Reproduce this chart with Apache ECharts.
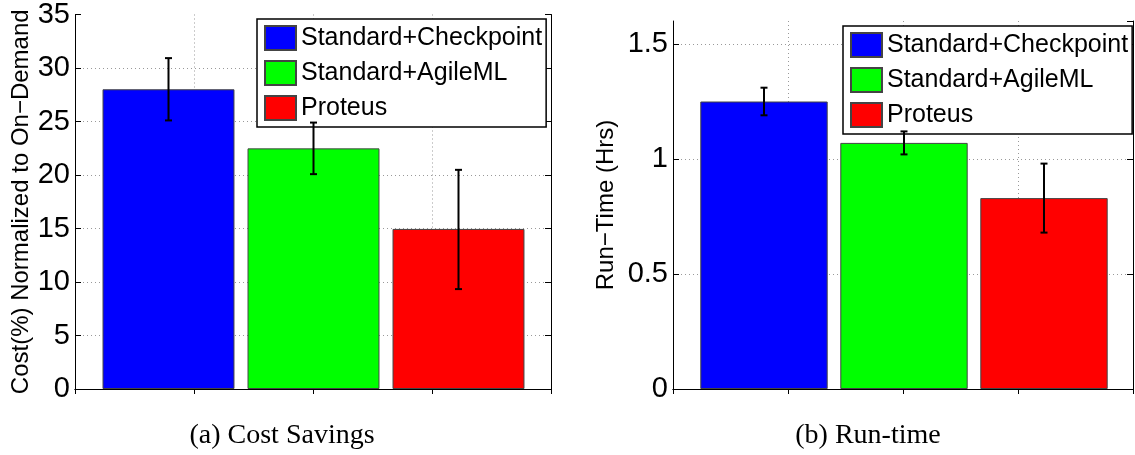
<!DOCTYPE html>
<html>
<head>
<meta charset="utf-8">
<script src="https://cdn.jsdelivr.net/npm/echarts@6/dist/echarts.min.js"></script>
<style>
  html, body { margin: 0; padding: 0; background: #fff; }
  #chart { width: 1135px; height: 455px; }
</style>
</head>
<body>
<div id="chart"></div>
<script>
// series names, shared by both panels
var names = ['Standard+Checkpoint', 'Standard+AgileML', 'Proteus'];
var colors = ['#0000ff', '#00ff00', '#ff0000'];

// (a) cost savings, % of on-demand
var costValues = [27.9, 22.4, 14.9];
var costLow = [25.0, 20.0, 9.3];
var costHigh = [30.8, 24.8, 20.4];

// (b) run-time, hours
var timeValues = [1.25, 1.07, 0.83];
var timeLow = [1.19, 1.02, 0.68];
var timeHigh = [1.31, 1.12, 0.98];

var font = '"Liberation Sans", Arial, Helvetica, sans-serif';
var serif = '"Liberation Serif", "DejaVu Serif", serif';
var dotted = { show: true, showMinLine: false, showMaxLine: false,
  lineStyle: { color: '#999', type: [1, 3], width: 1 } };

var chart = echarts.init(document.getElementById('chart'));

function frameAxes(gridIndex, min, max, interval, yName, nameGap) {
  return {
    x: [
      { gridIndex: gridIndex, type: 'value', min: 0.6, max: 1.4, interval: 0.2, position: 'bottom',
        axisLine: { lineStyle: { color: '#000', width: 1 } }, axisTick: { show: false },
        axisLabel: { show: false }, splitLine: dotted },
      { gridIndex: gridIndex, type: 'value', min: 0.6, max: 1.4, interval: 0.2, position: 'top',
        axisLine: { lineStyle: { color: '#000', width: 1 } },
        axisTick: { inside: true, length: 5, lineStyle: { color: '#000' } },
        axisLabel: { show: false }, splitLine: { show: false } }
    ],
    y: [
      { gridIndex: gridIndex, type: 'value', min: min, max: max, interval: interval, position: 'left',
        name: yName, nameLocation: 'middle', nameRotate: 90, nameGap: nameGap,
        nameTextStyle: { fontFamily: font, fontSize: 24, color: '#000' },
        axisLine: { show: true, lineStyle: { color: '#000', width: 1 } },
        axisTick: { show: true, inside: true, length: 6, lineStyle: { color: '#000' } },
        axisLabel: { fontFamily: font, fontSize: 29, color: '#000', margin: 5, showMaxLabel: max % interval === 0 },
        splitLine: dotted },
      { gridIndex: gridIndex, type: 'value', min: min, max: max, interval: interval, position: 'right',
        axisLine: { show: true, lineStyle: { color: '#000', width: 1 } },
        axisTick: { show: true, inside: true, length: 6, lineStyle: { color: '#000' } },
        axisLabel: { show: false }, splitLine: { show: false } }
    ]
  };
}

var fa = frameAxes(0, 0, 35, 5, 'Cost(%) Normalized to On\u2212Demand', 42);
var fb = frameAxes(2, 0, 1.6, 0.5, 'Run\u2212Time (Hrs)', 55);

var xAxes = [
  fa.x[0], fa.x[1],
  { gridIndex: 1, type: 'category', data: names, show: false },
  fb.x[0], fb.x[1],
  { gridIndex: 3, type: 'category', data: names, show: false }
];
var yAxes = [
  fa.y[0], fa.y[1],
  { gridIndex: 1, type: 'value', min: 0, max: 35, show: false },
  fb.y[0], fb.y[1],
  { gridIndex: 3, type: 'value', min: 0, max: 1.6, show: false }
];

function barSeries(values, axisIndex) {
  return names.map(function (n, j) {
    return {
      name: n, type: 'bar', xAxisIndex: axisIndex, yAxisIndex: axisIndex,
      barWidth: '91%', barGap: '-100%',
      itemStyle: { color: colors[j], borderColor: '#444', borderWidth: 1 },
      data: values.map(function (v, k) { return k === j ? v : '-'; }),
      silent: true
    };
  });
}

function errorSeries(low, high, axisIndex) {
  return {
    type: 'custom', xAxisIndex: axisIndex, yAxisIndex: axisIndex, z: 5, silent: true,
    data: low.map(function (l, k) { return [k, l, high[k]]; }),
    renderItem: function (params, api) {
      var x = api.value(0);
      var lo = api.coord([x, api.value(1)]);
      var hi = api.coord([x, api.value(2)]);
      var c = 3.5, st = { stroke: '#000', lineWidth: 2 };
      return { type: 'group', children: [
        { type: 'line', shape: { x1: lo[0], y1: lo[1], x2: hi[0], y2: hi[1] }, style: st },
        { type: 'line', shape: { x1: lo[0] - c, y1: lo[1], x2: lo[0] + c, y2: lo[1] }, style: st },
        { type: 'line', shape: { x1: hi[0] - c, y1: hi[1], x2: hi[0] + c, y2: hi[1] }, style: st }
      ] };
    }
  };
}

function legendAt(left, top) {
  return {
    left: left, top: top, orient: 'vertical', icon: 'rect',
    itemWidth: 31, itemHeight: 24, itemGap: 9,
    padding: [6, 4, 6, 7], borderColor: '#000', borderWidth: 1.5, backgroundColor: '#fff',
    textStyle: { fontFamily: font, fontSize: 25, color: '#000' },
    selectedMode: false, data: names
  };
}

var option = {
  animation: false,
  grid: [
    { left: 75, top: 13, width: 476, height: 376, show: false },
    { left: 96, top: 13, width: 435, height: 376, show: false },
    { left: 673, top: 21, width: 460, height: 368, show: false },
    { left: 694, top: 21, width: 420, height: 368, show: false }
  ],
  xAxis: xAxes,
  yAxis: yAxes,
  legend: [legendAt(257, 19), legendAt(843, 26)],
  title: [
    { text: '(a) Cost Savings', left: 282, top: 422, textAlign: 'center', padding: 0,
      textStyle: { fontFamily: serif, fontSize: 28, fontWeight: 'normal', color: '#000' } },
    { text: '(b) Run-time', left: 868, top: 422, textAlign: 'center', padding: 0,
      textStyle: { fontFamily: serif, fontSize: 28, fontWeight: 'normal', color: '#000' } }
  ],
  series: barSeries(costValues, 2)
    .concat([errorSeries(costLow, costHigh, 2)])
    .concat(barSeries(timeValues, 5))
    .concat([errorSeries(timeLow, timeHigh, 5)])
};

chart.setOption(option);
</script>
</body>
</html>
